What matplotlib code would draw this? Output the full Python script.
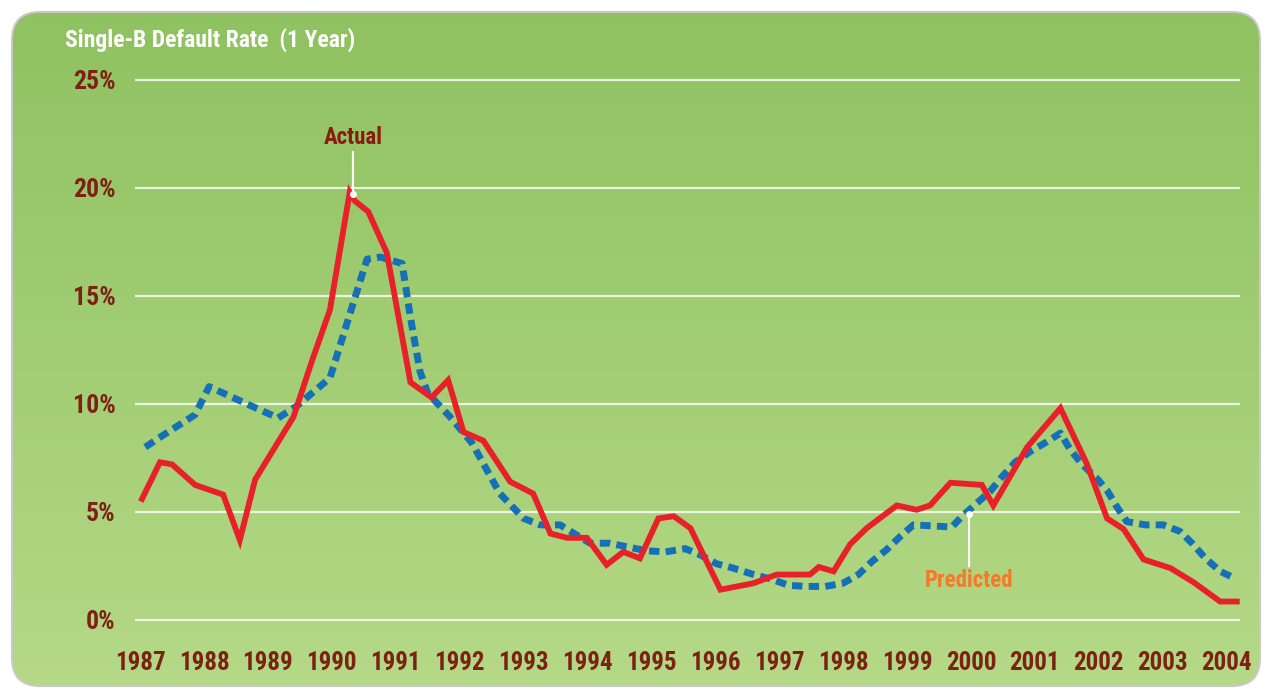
import numpy as np
import matplotlib
matplotlib.use('Agg')
import matplotlib.pyplot as plt
from matplotlib import font_manager
from matplotlib.patches import FancyBboxPatch

# values (x in decimal years, y in percent)
actual_x = [1987.03, 1987.31, 1987.50, 1987.86, 1988.30, 1988.56, 1988.80, 1989.40,
            1989.69, 1989.97, 1990.28, 1990.36, 1990.57, 1990.86, 1991.23, 1991.56,
            1991.82, 1992.06, 1992.37, 1992.79, 1993.15, 1993.42, 1993.68, 1993.99,
            1994.30, 1994.56, 1994.82, 1995.11, 1995.35, 1995.61, 1996.08, 1996.60,
            1996.96, 1997.48, 1997.62, 1997.85, 1998.11, 1998.37, 1998.84, 1999.15,
            1999.36, 1999.68, 2000.17, 2000.35, 2000.88, 2001.40, 2001.81, 2002.13,
            2002.39, 2002.70, 2003.12, 2003.48, 2003.90, 2004.16]
actual_y = [5.6, 7.3, 7.2, 6.25, 5.8, 3.7, 6.5, 9.4,
            12.0, 14.35, 19.8, 19.4, 18.9, 17.0, 11.0, 10.3,
            11.1, 8.7, 8.3, 6.4, 5.85, 4.0, 3.8, 3.8,
            2.55, 3.15, 2.85, 4.7, 4.8, 4.25, 1.4, 1.7,
            2.1, 2.1, 2.45, 2.25, 3.5, 4.25, 5.3, 5.1,
            5.3, 6.35, 6.25, 5.3, 8.0, 9.8, 7.25, 4.7,
            4.2, 2.8, 2.4, 1.75, 0.85, 0.85]

pred_x = [1987.08, 1987.36, 1987.86, 1988.08, 1988.67, 1989.16, 1989.45, 1989.97,
          1990.55, 1990.76, 1991.10, 1991.23, 1991.38, 1991.50, 1991.85, 1992.19,
          1992.63, 1993.00, 1993.26, 1993.57, 1994.04, 1994.35, 1994.64, 1994.93,
          1995.22, 1995.53, 1995.77, 1996.02, 1996.28, 1996.60, 1996.86, 1997.15,
          1997.43, 1997.72, 1998.00, 1998.24, 1998.45, 1998.68, 1998.89, 1999.10,
          1999.41, 1999.70, 1999.88, 2000.09, 2000.30, 2000.48, 2000.69, 2000.93,
          2001.19, 2001.40, 2001.55, 2001.74, 2001.97, 2002.13, 2002.28, 2002.44,
          2002.73, 2003.01, 2003.27, 2003.46, 2003.67, 2003.90, 2004.11]
pred_y = [8.0, 8.55, 9.5, 10.8, 10.0, 9.35, 9.9, 11.2,
          16.7, 16.8, 16.5, 14.0, 11.5, 10.5, 9.4, 8.2,
          5.85, 4.7, 4.4, 4.4, 3.55, 3.55, 3.37, 3.2,
          3.15, 3.3, 3.0, 2.6, 2.4, 2.1, 1.9, 1.6,
          1.55, 1.55, 1.7, 2.1, 2.7, 3.25, 3.85, 4.4,
          4.35, 4.3, 4.85, 5.4, 5.95, 6.6, 7.3, 7.8,
          8.25, 8.65, 7.9, 7.2, 6.55, 6.0, 5.25, 4.55,
          4.4, 4.4, 4.1, 3.55, 2.85, 2.25, 1.95]

years = list(range(1987, 2005))
y_ticks = [0, 5, 10, 15, 20, 25]

# pick a condensed face if one is around, otherwise an Arial-like one
installed = set(f.name for f in font_manager.fontManager.ttflist)
fnt = 'Liberation Sans'
scale = 0.82
for cand in ['Liberation Sans Narrow', 'DejaVu Sans Condensed', 'Roboto Condensed',
             'Open Sans Condensed']:
    if cand in installed:
        fnt = cand
        scale = 1.0
        break

label_col = '#7c2214'

fig = plt.figure(figsize=(12.68, 6.9), dpi=100)

# background panel with rounded corners and green gradient
bg = fig.add_axes([0, 0, 1, 1])
bg.set_xlim(0, 1268)
bg.set_ylim(690, 0)
bg.axis('off')
panel = FancyBboxPatch((12, 12), 1248, 674, boxstyle='round,pad=0,rounding_size=28',
                       facecolor='none', edgecolor='#c8c8c8', linewidth=1.5)
bg.add_patch(panel)
top = np.array([0.56, 0.76, 0.38])
bot = np.array([0.71, 0.85, 0.53])
t = np.linspace(0, 1, 256)[:, None, None]
grad = top * (1 - t) + bot * t
grad = np.repeat(grad, 2, axis=1)
im = bg.imshow(grad, extent=(12, 1260, 686, 12), aspect='auto', zorder=0)
im.set_clip_path(panel)

ax = fig.add_axes([135 / 1268, 50 / 690, 1105 / 1268, 570 / 690])
ax.patch.set_alpha(0)
ax.set_xlim(1986.92, 2004.21)
ax.set_ylim(-0.93, 25.46)
for s in ax.spines.values():
    s.set_visible(False)

for v in y_ticks:
    ax.axhline(v, color='white', lw=1.6, alpha=0.8, zorder=1)

ax.plot(pred_x, pred_y, color='#1670b8', lw=5, linestyle=(0, (1.5, 0.9)),
        dash_capstyle='butt', zorder=3)
ax.plot(actual_x, actual_y, color='#e8202a', lw=4.2, solid_joinstyle='miter', zorder=4)

ax.set_xticks(years)
ax.set_xticklabels([str(y) for y in years])
ax.set_yticks(y_ticks)
ax.set_yticklabels(['%d%%' % v for v in y_ticks])
ax.tick_params(length=0)
for lab in ax.get_xticklabels():
    lab.set_family(fnt)
    lab.set_fontweight('bold')
    lab.set_fontsize(18 * scale)
    lab.set_color(label_col)
ax.tick_params(axis='x', pad=8)
for lab in ax.get_yticklabels():
    lab.set_family(fnt)
    lab.set_fontweight('bold')
    lab.set_fontsize(18.5 * scale)
    lab.set_color(label_col)
ax.tick_params(axis='y', pad=14)

# annotations
ax.annotate('Actual', xy=(1990.33, 19.7), xytext=(1990.33, 21.8),
            ha='center', va='bottom', fontsize=16.5 * scale, fontweight='bold',
            family=fnt, color='#8c1a10',
            arrowprops=dict(arrowstyle='-', color='white', lw=1.5, shrinkA=0, shrinkB=0))
ax.plot([1990.33], [19.7], 'o', color='white', ms=4, zorder=5)
ax.annotate('Predicted', xy=(1999.97, 4.9), xytext=(1999.97, 2.35),
            ha='center', va='top', fontsize=16.5 * scale, fontweight='bold',
            family=fnt, color='#f47a2a',
            arrowprops=dict(arrowstyle='-', color='white', lw=1.5, shrinkA=0, shrinkB=0))
ax.plot([1999.97], [4.9], 'o', color='white', ms=4, zorder=5)

fig.text(65 / 1268, 1 - 40 / 690, 'Single-B Default Rate  (1 Year)', color='white',
         fontsize=17 * scale, fontweight='bold', family=fnt, va='center', ha='left')

fig.savefig('out.png', dpi=100)
